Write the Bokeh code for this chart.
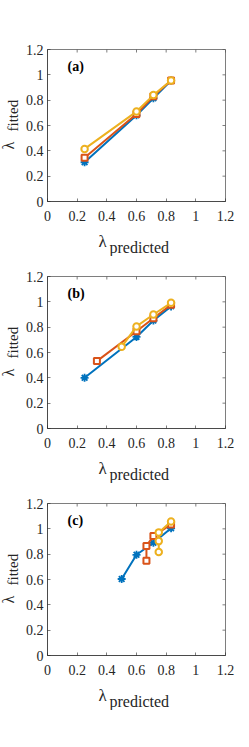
import math
from bokeh.plotting import figure
from bokeh.layouts import column
from bokeh.models import Label, Title, FixedTicker, Range1d
from bokeh.embed import file_html
from bokeh.resources import INLINE

# ---- data ----
ticks = [0, 0.2, 0.4, 0.6, 0.8, 1, 1.2]
tick_labels = {0: "0", 0.2: "0.2", 0.4: "0.4", 0.6: "0.6", 0.8: "0.8", 1: "1", 1.2: "1.2"}

a_blue_x = [0.25, 0.6, 0.714, 0.833]
a_blue_y = [0.31, 0.68, 0.815, 0.955]
a_red_x = [0.25, 0.6, 0.714, 0.833]
a_red_y = [0.345, 0.69, 0.83, 0.955]
a_yel_x = [0.25, 0.6, 0.714, 0.833]
a_yel_y = [0.415, 0.71, 0.84, 0.955]

b_blue_x = [0.25, 0.6, 0.714, 0.833]
b_blue_y = [0.40, 0.723, 0.852, 0.964]
b_red_x = [0.333, 0.6, 0.714, 0.833]
b_red_y = [0.532, 0.768, 0.87, 0.977]
b_yel_x = [0.5, 0.6, 0.714, 0.833]
b_yel_y = [0.645, 0.806, 0.90, 0.992]

c_blue_x = [0.5, 0.6, 0.714, 0.833]
c_blue_y = [0.604, 0.795, 0.89, 1.004]
c_red_x = [0.667, 0.667, 0.714, 0.833]
c_red_y = [0.749, 0.865, 0.943, 1.035]
c_yel_x = [0.75, 0.75, 0.75, 0.833]
c_yel_y = [0.817, 0.903, 0.972, 1.057]

panel_tags = ["(a)", "(b)", "(c)"]
panel_series = [
    [(a_blue_x, a_blue_y), (a_red_x, a_red_y), (a_yel_x, a_yel_y)],
    [(b_blue_x, b_blue_y), (b_red_x, b_red_y), (b_yel_x, b_yel_y)],
    [(c_blue_x, c_blue_y), (c_red_x, c_red_y), (c_yel_x, c_yel_y)],
]

BLUE = "#0072BD"
RED = "#D95319"
YEL = "#EDB120"
AX = "#262626"
FONT = "Liberation Serif"
LO, HI = 0, 1.2


def style_axis(ax):
    ax.ticker = FixedTicker(ticks=ticks)
    ax.major_label_overrides = tick_labels
    ax.axis_line_color = AX
    ax.axis_line_width = 0.6
    ax.major_tick_line_color = AX
    ax.major_tick_line_width = 0.6
    ax.major_tick_in = 3
    ax.major_tick_out = 0
    ax.minor_tick_line_color = None
    ax.major_label_text_font = FONT
    ax.major_label_text_color = AX
    ax.major_label_text_font_size = "14px"


def title(text, size, offset, standoff, valign="bottom"):
    return Title(text=text, align="left", offset=offset, standoff=standoff,
                 vertical_align=valign, text_font=FONT, text_font_size=size,
                 text_font_style="normal", text_color=AX)


def make_panel(tag, series, top_border, bottom_border):
    p = figure(frame_width=178, frame_height=152,
               x_range=Range1d(LO, HI), y_range=Range1d(LO, HI),
               output_backend="svg", toolbar_location=None,
               min_border_left=41, min_border_right=14,
               min_border_top=top_border, min_border_bottom=bottom_border)
    p.grid.visible = False
    p.outline_line_color = AX
    p.outline_line_width = 0.6
    p.background_fill_color = "white"
    p.border_fill_color = "white"
    style_axis(p.xaxis[0])
    style_axis(p.yaxis[0])
    p.xaxis[0].major_label_standoff = 9
    p.yaxis[0].major_label_standoff = 4

    # inward ticks on the top and right edges of the box
    p.ray(x=ticks, y=[HI] * len(ticks), length=3, length_units="screen",
          angle=-math.pi / 2, line_color=AX, line_width=0.6)
    p.ray(x=[HI] * len(ticks), y=ticks, length=3, length_units="screen",
          angle=math.pi, line_color=AX, line_width=0.6)

    (bx, by), (rx, ry), (yx, yy) = series
    p.line(bx, by, line_color=BLUE, line_width=2)
    p.scatter(bx, by, marker="asterisk", size=8, line_color=BLUE, line_width=1.8)
    p.line(rx, ry, line_color=RED, line_width=2)
    p.scatter(rx, ry, marker="square", size=6, line_color=RED, fill_color="white", line_width=2)
    p.line(yx, yy, line_color=YEL, line_width=2)
    p.scatter(yx, yy, marker="circle", size=6.5, line_color=YEL, fill_color="white", line_width=2)

    p.add_layout(Label(x=0.135, y=1.062, text=tag, text_font=FONT, text_font_style="bold",
                       text_font_size="14px", text_color="black", text_baseline="middle"))
    # x label: lambda with subscript "predicted"
    p.add_layout(title("λ", "17px", 51, 12), "below")
    p.add_layout(title("predicted", "16px", 62, -36, "top"), "below")
    # y label: lambda with subscript "fitted" (subscript sits closer to the axis)
    p.add_layout(title("fitted", "15px", 70, 4), "left")
    p.add_layout(title("λ", "16px", 52, -33), "left")
    return p


figs = [
    make_panel(panel_tags[0], panel_series[0], 49, 51),
    make_panel(panel_tags[1], panel_series[1], 20, 52),
    make_panel(panel_tags[2], panel_series[2], 20, 52),
]
layout = column(*figs, spacing=0)
open("out.html", "w").write(file_html(layout, INLINE))
